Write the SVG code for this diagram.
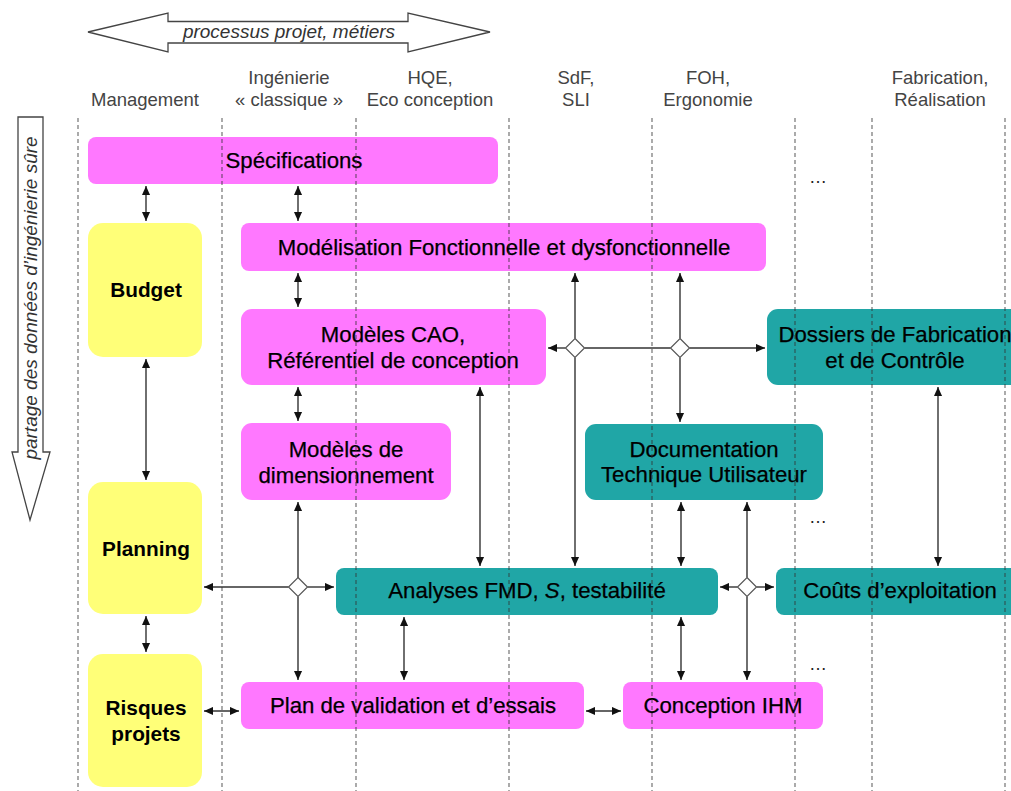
<svg xmlns="http://www.w3.org/2000/svg" width="1011" height="791" viewBox="0 0 1011 791">
<style>
.hdr{font-family:"Liberation Sans",Arial,sans-serif;font-size:18.5px;fill:#444;text-anchor:middle}
.bt{font-family:"Liberation Sans",Arial,sans-serif;font-size:22.2px;fill:#000;stroke:#000;stroke-width:0.25;text-anchor:middle}
.bb{font-family:"Liberation Sans",Arial,sans-serif;font-size:20.8px;font-weight:bold;fill:#000;text-anchor:middle}
.pink{fill:#FF78FF}
.teal{fill:#20A6A6}
.yel{fill:#FFFF78}
.con line{stroke:#333;stroke-width:1.4;fill:none}
.dia{fill:#fff;stroke:#555;stroke-width:1.2}
.dash{stroke:#333;stroke-width:1.1;stroke-dasharray:4 3;opacity:0.75}
.dots{font-family:"Liberation Sans",Arial,sans-serif;font-size:18px;fill:#222}
</style>
<defs>
<marker id="ah" viewBox="0 0 10 10" refX="10" refY="5" markerWidth="9" markerHeight="9" markerUnits="userSpaceOnUse" orient="auto-start-reverse">
<path d="M0,0.5 L10,5 L0,9.5 z" fill="#111"/>
</marker>
</defs>
<rect width="1011" height="791" fill="#fff"/>

<!-- top double arrow -->
<g id="process-arrow">
<polygon points="88,32 168,13 168,21.5 408,21.5 408,13 490,32 408,52 408,43 168,43 168,52" fill="#fff" stroke="#444" stroke-width="1.3"/>
<text x="289" y="38" font-family="'Liberation Sans',Arial,sans-serif" font-size="19" font-style="italic" fill="#333" text-anchor="middle">processus projet, métiers</text>
</g>

<!-- left vertical arrow -->
<g id="data-arrow">
<polygon points="18,117 43,117 43,452 50,452 30,520 12,452 18,452" fill="#fff" stroke="#444" stroke-width="1.3"/>
<text x="0" y="0" transform="translate(37,298) rotate(-90)" font-family="'Liberation Sans',Arial,sans-serif" font-size="19" font-style="italic" fill="#333" text-anchor="middle">partage des données d’ingénierie sûre</text>
</g>

<!-- column headers -->
<g id="headers">
<text class="hdr" x="145" y="106">Management</text>
<text class="hdr" x="289" y="84">Ingénierie</text>
<text class="hdr" x="289" y="106">« classique »</text>
<text class="hdr" x="430" y="84">HQE,</text>
<text class="hdr" x="430" y="106">Eco conception</text>
<text class="hdr" x="576" y="84">SdF,</text>
<text class="hdr" x="576" y="106">SLI</text>
<text class="hdr" x="708" y="84">FOH,</text>
<text class="hdr" x="708" y="106">Ergonomie</text>
<text class="hdr" x="940" y="84">Fabrication,</text>
<text class="hdr" x="940" y="106">Réalisation</text>
</g>

<!-- nodes -->
<g id="specifications"><rect class="pink" x="88" y="137" width="410" height="47" rx="8"/><text class="bt" x="294" y="168">Spécifications</text></g>
<g id="budget"><rect class="yel" x="88" y="223" width="114" height="134" rx="15"/><text class="bb" x="146" y="297">Budget</text></g>
<g id="planning"><rect class="yel" x="88" y="482" width="114" height="132" rx="15"/><text class="bb" x="146" y="556">Planning</text></g>
<g id="risques"><rect class="yel" x="88" y="654" width="114" height="133" rx="15"/><text class="bb" x="146" y="715">Risques</text><text class="bb" x="146" y="741">projets</text></g>
<g id="modelisation"><rect class="pink" x="241" y="223" width="525" height="48" rx="8"/><text class="bt" x="504" y="255">Modélisation Fonctionnelle et dysfonctionnelle</text></g>
<g id="cao"><rect class="pink" x="241" y="309" width="305" height="76" rx="11"/><text class="bt" x="393" y="342">Modèles CAO,</text><text class="bt" x="393" y="368">Référentiel de conception</text></g>
<g id="dimensionnement"><rect class="pink" x="241" y="423" width="210" height="77" rx="11"/><text class="bt" x="346" y="457">Modèles de</text><text class="bt" x="346" y="483">dimensionnement</text></g>
<g id="dossiers"><rect class="teal" x="767" y="309" width="270" height="76" rx="11"/><text class="bt" x="895" y="342">Dossiers de Fabrication</text><text class="bt" x="895" y="368">et de Contrôle</text></g>
<g id="documentation"><rect class="teal" x="585" y="424" width="238" height="76" rx="11"/><text class="bt" x="704" y="457">Documentation</text><text class="bt" x="704" y="482">Technique Utilisateur</text></g>
<g id="analyses"><rect class="teal" x="336" y="568" width="382" height="47" rx="8"/><text class="bt" x="527" y="598">Analyses FMD, <tspan font-style="italic">S</tspan>, testabilité</text></g>
<g id="couts"><rect class="teal" x="776" y="568" width="260" height="47" rx="8"/><text class="bt" x="900" y="598">Coûts d’exploitation</text></g>
<g id="validation"><rect class="pink" x="241" y="682" width="343" height="47" rx="8"/><text class="bt" x="413" y="713">Plan de validation et d’essais</text></g>
<g id="ihm"><rect class="pink" x="623" y="682" width="200" height="47" rx="8"/><text class="bt" x="723" y="713">Conception IHM</text></g>

<!-- ellipses -->
<g id="ellipses">
<text class="dots" x="818" y="183" text-anchor="middle">…</text>
<text class="dots" x="818" y="523" text-anchor="middle">…</text>
<text class="dots" x="818" y="670" text-anchor="middle">…</text>
</g>

<!-- connectors -->
<g id="connectors" class="con">
<line x1="146" y1="186" x2="146" y2="221" marker-start="url(#ah)" marker-end="url(#ah)"/>
<line x1="298" y1="186" x2="298" y2="221" marker-start="url(#ah)" marker-end="url(#ah)"/>
<line x1="146" y1="359" x2="146" y2="480" marker-start="url(#ah)" marker-end="url(#ah)"/>
<line x1="298" y1="273" x2="298" y2="307" marker-start="url(#ah)" marker-end="url(#ah)"/>
<line x1="298" y1="387" x2="298" y2="421" marker-start="url(#ah)" marker-end="url(#ah)"/>
<line x1="146" y1="616" x2="146" y2="652" marker-start="url(#ah)" marker-end="url(#ah)"/>
<line x1="204" y1="711" x2="239" y2="711" marker-start="url(#ah)" marker-end="url(#ah)"/>
<line x1="404" y1="617" x2="404" y2="680" marker-start="url(#ah)" marker-end="url(#ah)"/>
<line x1="586" y1="711" x2="621" y2="711" marker-start="url(#ah)" marker-end="url(#ah)"/>
<line x1="480" y1="387" x2="480" y2="566" marker-start="url(#ah)" marker-end="url(#ah)"/>
<line x1="681" y1="502" x2="681" y2="566" marker-start="url(#ah)" marker-end="url(#ah)"/>
<line x1="681" y1="617" x2="681" y2="680" marker-start="url(#ah)" marker-end="url(#ah)"/>
<line x1="938" y1="387" x2="938" y2="566" marker-start="url(#ah)" marker-end="url(#ah)"/>
<!-- junction 1 (298,587) -->
<line x1="298" y1="578" x2="298" y2="502" marker-end="url(#ah)"/>
<line x1="288.5" y1="587" x2="204" y2="587" marker-end="url(#ah)"/>
<line x1="307.5" y1="587" x2="334" y2="587" marker-end="url(#ah)"/>
<line x1="298" y1="596.5" x2="298" y2="680" marker-end="url(#ah)"/>
<!-- junction 2 (575,348) -->
<line x1="565.5" y1="348" x2="548" y2="348" marker-end="url(#ah)"/>
<line x1="575" y1="338.5" x2="575" y2="273" marker-end="url(#ah)"/>
<line x1="575" y1="357.5" x2="575" y2="566" marker-end="url(#ah)"/>
<line x1="584.5" y1="348" x2="670.5" y2="348"/>
<!-- junction 3 (680,348) -->
<line x1="680" y1="338.5" x2="680" y2="273" marker-end="url(#ah)"/>
<line x1="689.5" y1="348" x2="765" y2="348" marker-end="url(#ah)"/>
<line x1="680" y1="357.5" x2="680" y2="422" marker-end="url(#ah)"/>
<!-- junction 4 (747,587) -->
<line x1="737.5" y1="587" x2="720" y2="587" marker-end="url(#ah)"/>
<line x1="756.5" y1="587" x2="774" y2="587" marker-end="url(#ah)"/>
<line x1="747" y1="577.5" x2="747" y2="502" marker-end="url(#ah)"/>
<line x1="747" y1="596.5" x2="747" y2="680" marker-end="url(#ah)"/>
</g>
<g id="junctions">
<polygon class="dia" points="298,577.5 307.5,587 298,596.5 288.5,587"/>
<polygon class="dia" points="575,338.5 584.5,348 575,357.5 565.5,348"/>
<polygon class="dia" points="680,338.5 689.5,348 680,357.5 670.5,348"/>
<polygon class="dia" points="747,577.5 756.5,587 747,596.5 737.5,587"/>
</g>

<!-- swimlane separators -->
<g id="lanes">
<line class="dash" x1="78" y1="118" x2="78" y2="791"/>
<line class="dash" x1="222" y1="118" x2="222" y2="791"/>
<line class="dash" x1="356" y1="118" x2="356" y2="791"/>
<line class="dash" x1="509" y1="118" x2="509" y2="791"/>
<line class="dash" x1="652" y1="118" x2="652" y2="791"/>
<line class="dash" x1="795" y1="118" x2="795" y2="791"/>
<line class="dash" x1="872" y1="118" x2="872" y2="791"/>
<line class="dash" x1="1005" y1="118" x2="1005" y2="791"/>
</g>
</svg>
